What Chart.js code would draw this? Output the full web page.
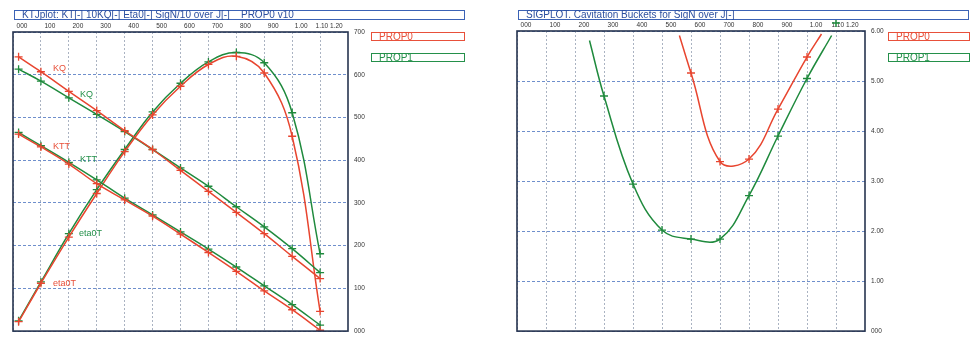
<!DOCTYPE html>
<html>
<head>
<meta charset="utf-8">
<script src="https://cdn.jsdelivr.net/npm/chart.js@4.4.0/dist/chart.umd.min.js"></script>
<style>
  body { margin: 0; background: #fff; font-family: "Liberation Sans", Arial, sans-serif; }
  #wrap { position: relative; width: 976px; height: 341px; overflow: hidden; }
  canvas { position: absolute; top: 0; }
  .titulo { position: absolute; height: 8px; border: 1.5px solid #3b62b5; color: #2c4f9f;
            font-size: 10px; line-height: 8px; padding-left: 7px; white-space: pre; box-sizing: content-box; }
  .leyenda { position: absolute; height: 7px; border: 1px solid; font-size: 10px; line-height: 8px;
             padding-left: 7px; box-sizing: content-box; }
  .etiq { position: absolute; font-size: 9px; line-height: 9px; }
</style>
</head>
<body>
<div id="wrap">
  <canvas id="cKT" width="488" height="341" style="left:0"></canvas>
  <canvas id="cSIG" width="488" height="341" style="left:488px"></canvas>

  <div class="titulo" style="left:14px;top:10px;width:442px">KTJplot: KT[-] 10KQ[-] Eta0[-] SigN/10 over J[-]    PROP0 v10</div>
  <div class="titulo" style="left:518px;top:10px;width:442px">SIGPLOT. Cavitation Buckets for SigN over J[-]</div>

  <div class="leyenda" style="left:371px;top:32px;width:85px;border-color:#e8503a;color:#e8503a">PROP0</div>
  <div class="leyenda" style="left:371px;top:53px;width:85px;border-color:#24904a;color:#24904a">PROP1</div>
  <div class="leyenda" style="left:888px;top:32px;width:73px;border-color:#e8503a;color:#e8503a">PROP0</div>
  <div class="leyenda" style="left:888px;top:53px;width:73px;border-color:#24904a;color:#24904a">PROP1</div>

  <!-- nombres de las curvas -->
  <div class="etiq" style="left:53px;top:64px;color:#e8503a">KQ</div>
  <div class="etiq" style="left:80px;top:90px;color:#24904a">KQ</div>
  <div class="etiq" style="left:53px;top:142px;color:#e8503a">KTT</div>
  <div class="etiq" style="left:80px;top:155px;color:#24904a">KTT</div>
  <div class="etiq" style="left:79px;top:229px;color:#24904a">eta0T</div>
  <div class="etiq" style="left:53px;top:279px;color:#e8503a">eta0T</div>
</div>

<script>
var ROJO = '#e8452f'
var VERDE = '#1f8a3d'

// ---- KTJplot (panel izquierdo) ----
var J = [0.02, 0.1, 0.2, 0.3, 0.4, 0.5, 0.6, 0.7, 0.8, 0.9, 1.0, 1.1]
var kq_prop0 = [0.642, 0.607, 0.561, 0.516, 0.469, 0.425, 0.376, 0.327, 0.278, 0.228, 0.175, 0.123]
var kq_prop1 = [0.613, 0.585, 0.546, 0.507, 0.467, 0.425, 0.382, 0.339, 0.291, 0.244, 0.193, 0.137]
var kt_prop0 = [0.461, 0.431, 0.391, 0.345, 0.307, 0.269, 0.227, 0.184, 0.140, 0.094, 0.050, 0.002]
var kt_prop1 = [0.465, 0.434, 0.395, 0.354, 0.311, 0.272, 0.232, 0.192, 0.150, 0.106, 0.062, 0.014]
var eta_prop0 = [0.022, 0.112, 0.220, 0.322, 0.420, 0.506, 0.573, 0.624, 0.643, 0.604, 0.456, 0.046]
var eta_prop1 = [0.024, 0.115, 0.228, 0.331, 0.425, 0.513, 0.580, 0.630, 0.652, 0.628, 0.511, 0.181]

var xTicks = [0, 0.1, 0.2, 0.3, 0.4, 0.5, 0.6, 0.7, 0.8, 0.9, 1.0, 1.1]
var xTickLabels = ['000', '100', '200', '300', '400', '500', '600', '700', '800', '900', '1.00', '1.10 1.20']
var yTicksKT = [0, 0.1, 0.2, 0.3, 0.4, 0.5, 0.6, 0.7]
var yLabelsKT = ['000', '100', '200', '300', '400', '500', '600', '700']

// ---- SIGPLOT (panel derecho) ----
var J_sig0 = [0.56, 0.6, 0.7, 0.8, 0.9, 1.0, 1.05]
var sig_prop0 = [5.91, 5.16, 3.39, 3.44, 4.44, 5.48, 5.94]
var J_sig1 = [0.25, 0.3, 0.4, 0.5, 0.6, 0.7, 0.8, 0.9, 1.0, 1.085]
var sig_prop1 = [5.81, 4.70, 2.94, 2.02, 1.84, 1.84, 2.71, 3.90, 5.05, 5.91]
var J_fuera = [1.1]          // punto de PROP1 por encima del eje
var sig_fuera = [6.16]
var yTicksSIG = [0, 1, 2, 3, 4, 5, 6]
var yLabelsSIG = ['000', '1.00', '2.00', '3.00', '4.00', '5.00', '6.00']

function pares(xs, ys) {
    return xs.map(function (x, i) { return { x: x, y: ys[i] } })
}

// marcadores solo en los puntos interiores (los extremos son donde empieza/termina la curva)
function radios(n) {
    var r = []
    for (var i = 0; i < n; i++) r.push(i == 0 || i == n - 1 ? 0 : 4)
    return r
}

function serie(datos, color, extra) {
    var s = {
        data: datos,
        borderColor: color,
        backgroundColor: color,
        borderWidth: 1.5,
        pointStyle: 'cross',
        pointRadius: 4,
        pointBorderWidth: 1.3,
        tension: 0.4,
        fill: false
    }
    return Object.assign(s, extra || {})
}

var marco = {
    id: 'marco',
    afterDatasetsDraw: function (chart) {
        var a = chart.chartArea
        var ctx = chart.ctx
        ctx.save()
        ctx.setLineDash([])
        ctx.strokeStyle = '#26344f'
        ctx.lineWidth = 1.6
        ctx.strokeRect(a.left, a.top, a.right - a.left, a.bottom - a.top)

        // Chart.js no pinta puntos fuera del area: los datasets marcados 'fuera' se pintan aqui
        chart.data.datasets.forEach(function (ds, k) {
            if (!ds.fuera) return
            chart.getDatasetMeta(k).data.forEach(function (p) {
                ctx.strokeStyle = ds.borderColor
                ctx.lineWidth = 1.5
                ctx.beginPath()
                ctx.moveTo(p.x - 4, p.y); ctx.lineTo(p.x + 4, p.y)
                ctx.moveTo(p.x, p.y - 4); ctx.lineTo(p.x, p.y + 4)
                ctx.stroke()
            })
        })
        ctx.restore()
    }
}

function opciones(cfg) {
    return {
        responsive: false,
        devicePixelRatio: 1,
        animation: false,
        layout: { padding: { left: cfg.left, top: 0, right: 0, bottom: cfg.bottom } },
        plugins: { legend: { display: false }, tooltip: { enabled: false } },
        scales: {
            x: {
                type: 'linear', position: 'top', min: 0, max: 1.2,
                afterBuildTicks: function (s) { s.ticks = xTicks.map(function (v) { return { value: v } }) },
                afterFit: function (s) { s.height = cfg.top },
                ticks: {
                    callback: function (v, i) { return xTickLabels[i] },
                    labelOffset: 9, padding: 2, autoSkip: false, maxRotation: 0,
                    color: '#333', font: { size: 6.5, family: 'Liberation Sans' }
                },
                grid: { color: '#aab3c2', drawTicks: false, lineWidth: 1 },
                border: { display: false, dash: [2, 2] }
            },
            y: {
                type: 'linear', position: 'right', min: cfg.ymin, max: cfg.ymax,
                afterBuildTicks: function (s) { s.ticks = cfg.yTicks.map(function (v) { return { value: v } }) },
                afterFit: function (s) { s.width = cfg.anchoY },
                ticks: {
                    callback: function (v, i) { return cfg.yLabels[i] },
                    padding: 6, autoSkip: false,
                    color: '#333', font: { size: 6.5, family: 'Liberation Sans' }
                },
                grid: { color: '#6f8fcc', drawTicks: false, lineWidth: 1 },
                border: { display: false, dash: [3, 2] }
            }
        }
    }
}

new Chart(document.getElementById('cKT').getContext('2d'), {
    type: 'line',
    data: {
        datasets: [
            serie(pares(J, kq_prop0), ROJO),
            serie(pares(J, kq_prop1), VERDE),
            serie(pares(J, kt_prop0), ROJO),
            serie(pares(J, kt_prop1), VERDE),
            serie(pares(J, eta_prop0), ROJO),
            serie(pares(J, eta_prop1), VERDE)
        ]
    },
    options: opciones({ left: 13, top: 32, bottom: 4, anchoY: 140, ymin: 0, ymax: 0.7, yTicks: yTicksKT, yLabels: yLabelsKT }),
    plugins: [marco]
})

new Chart(document.getElementById('cSIG').getContext('2d'), {
    type: 'line',
    data: {
        datasets: [
            serie(pares(J_sig0, sig_prop0), ROJO, { pointRadius: radios(J_sig0.length) }),
            serie(pares(J_sig1, sig_prop1), VERDE, { pointRadius: radios(J_sig1.length) }),
            serie(pares(J_fuera, sig_fuera), VERDE, { showLine: false, pointRadius: 0, fuera: true })
        ]
    },
    options: opciones({ left: 29, top: 31, bottom: 3, anchoY: 111, ymin: 0, ymax: 6, yTicks: yTicksSIG, yLabels: yLabelsSIG }),
    plugins: [marco]
})
</script>
</body>
</html>
